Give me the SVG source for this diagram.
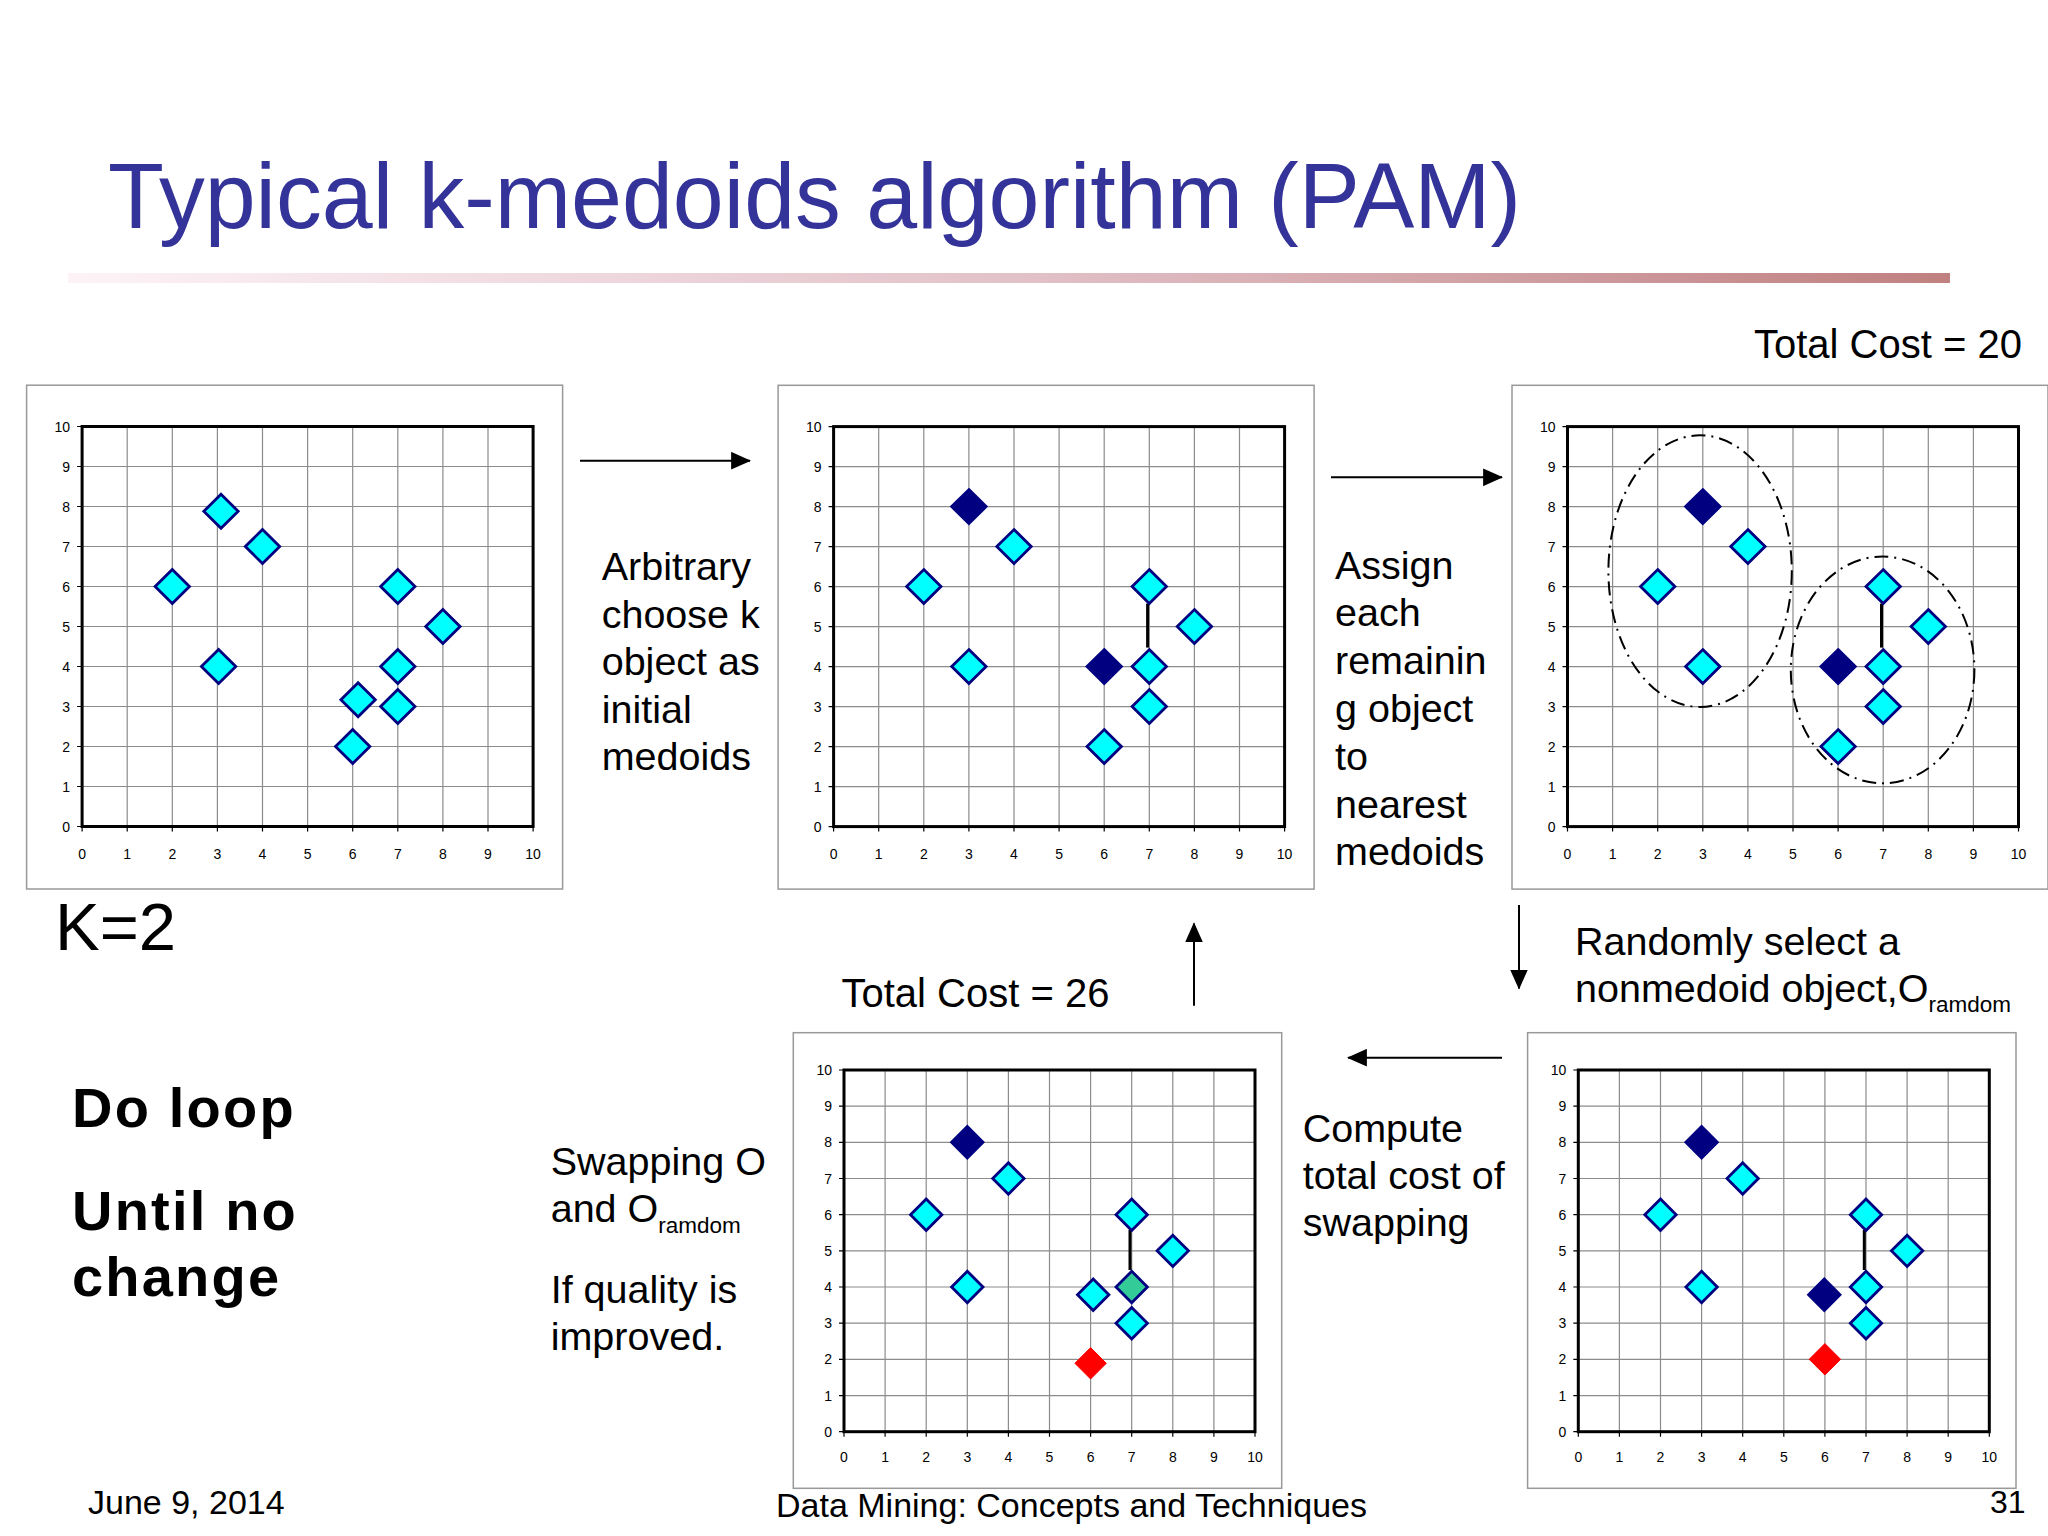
<svg xmlns="http://www.w3.org/2000/svg" xmlns:xlink="http://www.w3.org/1999/xlink" width="2048" height="1536" viewBox="0 0 2048 1536">
<style>
text{font-family:"Liberation Sans",Arial,sans-serif;fill:#000}
.title{font-size:92px;fill:#333399}
.body{font-size:39.5px}
.sub{font-size:22.5px}
.bold{font-size:56px;font-weight:bold;letter-spacing:2.2px}
.foot{font-size:34px}
.tick{font-size:14px}
.ya{text-anchor:end}
.xa{text-anchor:middle}
.frame{fill:#fff;stroke:#999;stroke-width:1.5}
.grid{fill:none;stroke:#8c8c8c;stroke-width:1.2}
.axis{fill:none;stroke:#000;stroke-width:3}
.tk{fill:none;stroke:#000;stroke-width:1.2}
.cy{fill:#00ffff;stroke:#000080;stroke-width:2.8}
.nv{fill:#000080;stroke:#000080;stroke-width:2.8}
.rd{fill:#ff0000;stroke:#ff0000;stroke-width:1}
.gn{fill:#33cc99;stroke:#000080;stroke-width:2.8}
.link{stroke:#000;stroke-width:3}
.clu{fill:none;stroke:#000;stroke-width:2;stroke-dasharray:14 6 2 6}
.arr{stroke:#000;stroke-width:2;fill:none}
</style>
<defs>
<linearGradient id="bar" x1="0" y1="0" x2="1" y2="0">
<stop offset="0" stop-color="#fdf3f7"/>
<stop offset="0.5" stop-color="#e2c2c9"/>
<stop offset="1" stop-color="#c08080"/>
</linearGradient>
<marker id="ah" markerUnits="userSpaceOnUse" markerWidth="20" markerHeight="18" viewBox="0 0 18 16" refX="17" refY="8" orient="auto">
<path d="M0,0 L18,8 L0,16 Z" fill="#000"/>
</marker>
<path id="dL" d="M0,-17 L17.2,0 L0,17 L-17.2,0 Z"/>
<path id="dS" d="M0,-15.7 L15.7,0 L0,15.7 L-15.7,0 Z"/>
<g id="gridL">
<rect class="frame" x="-55.5" y="-41.3" width="536" height="503.8"/>
<path class="grid" d="M45.1,0V400M90.2,0V400M135.3,0V400M180.4,0V400M225.5,0V400M270.6,0V400M315.7,0V400M360.8,0V400M405.9,0V400M0,40H451M0,80H451M0,120H451M0,160H451M0,200H451M0,240H451M0,280H451M0,320H451M0,360H451"/>
<path class="tk" d="M-5,0H0M-5,40H0M-5,80H0M-5,120H0M-5,160H0M-5,200H0M-5,240H0M-5,280H0M-5,320H0M-5,360H0M-5,400H0M0,400V405M45.1,400V405M90.2,400V405M135.3,400V405M180.4,400V405M225.5,400V405M270.6,400V405M315.7,400V405M360.8,400V405M405.9,400V405M451,400V405"/>
<rect class="axis" x="0" y="0" width="451" height="400"/>
<g class="tick ya">
<text x="-12" y="5">10</text><text x="-12" y="45">9</text><text x="-12" y="85">8</text><text x="-12" y="125">7</text><text x="-12" y="165">6</text><text x="-12" y="205">5</text><text x="-12" y="245">4</text><text x="-12" y="285">3</text><text x="-12" y="325">2</text><text x="-12" y="365">1</text><text x="-12" y="405">0</text>
</g>
<g class="tick xa">
<text x="0" y="432">0</text><text x="45.1" y="432">1</text><text x="90.2" y="432">2</text><text x="135.3" y="432">3</text><text x="180.4" y="432">4</text><text x="225.5" y="432">5</text><text x="270.6" y="432">6</text><text x="315.7" y="432">7</text><text x="360.8" y="432">8</text><text x="405.9" y="432">9</text><text x="451" y="432">10</text>
</g>
</g>
<g id="gridS">
<rect class="frame" x="-50.7" y="-37.3" width="488.4" height="455.6"/>
<path class="grid" d="M41.1,0V361.7M82.2,0V361.7M123.3,0V361.7M164.4,0V361.7M205.5,0V361.7M246.6,0V361.7M287.7,0V361.7M328.8,0V361.7M369.9,0V361.7M0,36.17H411M0,72.34H411M0,108.51H411M0,144.68H411M0,180.85H411M0,217.02H411M0,253.19H411M0,289.36H411M0,325.53H411"/>
<path class="tk" d="M-5,0H0M-5,36.17H0M-5,72.34H0M-5,108.51H0M-5,144.68H0M-5,180.85H0M-5,217.02H0M-5,253.19H0M-5,289.36H0M-5,325.53H0M-5,361.7H0M0,361.7V366.7M41.1,361.7V366.7M82.2,361.7V366.7M123.3,361.7V366.7M164.4,361.7V366.7M205.5,361.7V366.7M246.6,361.7V366.7M287.7,361.7V366.7M328.8,361.7V366.7M369.9,361.7V366.7M411,361.7V366.7"/>
<rect class="axis" x="0" y="0" width="411" height="361.7"/>
<g class="tick ya">
<text x="-12" y="5">10</text><text x="-12" y="41.2">9</text><text x="-12" y="77.3">8</text><text x="-12" y="113.5">7</text><text x="-12" y="149.7">6</text><text x="-12" y="185.9">5</text><text x="-12" y="222">4</text><text x="-12" y="258.2">3</text><text x="-12" y="294.4">2</text><text x="-12" y="330.5">1</text><text x="-12" y="366.7">0</text>
</g>
<g class="tick xa">
<text x="0" y="391.7">0</text><text x="41.1" y="391.7">1</text><text x="82.2" y="391.7">2</text><text x="123.3" y="391.7">3</text><text x="164.4" y="391.7">4</text><text x="205.5" y="391.7">5</text><text x="246.6" y="391.7">6</text><text x="287.7" y="391.7">7</text><text x="328.8" y="391.7">8</text><text x="369.9" y="391.7">9</text><text x="411" y="391.7">10</text>
</g>
</g>
</defs>

<rect x="0" y="0" width="2048" height="1536" fill="#fff"/>

<g id="title">
<text class="title" x="108" y="228" textLength="1413" lengthAdjust="spacingAndGlyphs">Typical k-medoids algorithm (PAM)</text>
<rect x="68" y="273" width="1882" height="10" fill="url(#bar)"/>
</g>

<g id="chart1" transform="translate(82.1,426.5)">
<use href="#gridL"/>
<use href="#dL" class="cy" x="138.9" y="84.8"/>
<use href="#dL" class="cy" x="180.4" y="120"/>
<use href="#dL" class="cy" x="90.2" y="160"/>
<use href="#dL" class="cy" x="315.7" y="160"/>
<use href="#dL" class="cy" x="360.8" y="200"/>
<use href="#dL" class="cy" x="136.5" y="240"/>
<use href="#dL" class="cy" x="315.7" y="240"/>
<use href="#dL" class="cy" x="276" y="273.2"/>
<use href="#dL" class="cy" x="315.7" y="280"/>
<use href="#dL" class="cy" x="270.6" y="320"/>
</g>

<g id="chart2" transform="translate(833.6,426.6)">
<use href="#gridL"/>
<line class="link" x1="314" y1="177" x2="314" y2="221"/>
<use href="#dL" class="nv" x="135.3" y="80"/>
<use href="#dL" class="nv" x="270.6" y="240"/>
<use href="#dL" class="cy" x="180.4" y="120"/>
<use href="#dL" class="cy" x="90.2" y="160"/>
<use href="#dL" class="cy" x="135.3" y="240"/>
<use href="#dL" class="cy" x="315.7" y="160"/>
<use href="#dL" class="cy" x="360.8" y="200"/>
<use href="#dL" class="cy" x="315.7" y="240"/>
<use href="#dL" class="cy" x="315.7" y="280"/>
<use href="#dL" class="cy" x="270.6" y="320"/>
</g>

<g id="chart3" transform="translate(1567.5,426.6)">
<use href="#gridL"/>
<line class="link" x1="314" y1="177" x2="314" y2="221"/>
<use href="#dL" class="nv" x="135.3" y="80"/>
<use href="#dL" class="nv" x="270.6" y="240"/>
<use href="#dL" class="cy" x="180.4" y="120"/>
<use href="#dL" class="cy" x="90.2" y="160"/>
<use href="#dL" class="cy" x="135.3" y="240"/>
<use href="#dL" class="cy" x="315.7" y="160"/>
<use href="#dL" class="cy" x="360.8" y="200"/>
<use href="#dL" class="cy" x="315.7" y="240"/>
<use href="#dL" class="cy" x="315.7" y="280"/>
<use href="#dL" class="cy" x="270.6" y="320"/>
<ellipse class="clu" cx="132.6" cy="144.5" rx="91.7" ry="135.8"/>
<ellipse class="clu" cx="315.1" cy="243.3" rx="91.8" ry="113.4"/>
</g>

<g id="chart4" transform="translate(844,1070)">
<use href="#gridS"/>
<line class="link" x1="286" y1="160" x2="286" y2="200"/>
<use href="#dS" class="nv" x="123.3" y="72.3"/>
<use href="#dS" class="cy" x="164.4" y="108.5"/>
<use href="#dS" class="cy" x="82.2" y="144.7"/>
<use href="#dS" class="cy" x="123.3" y="217"/>
<use href="#dS" class="cy" x="287.7" y="144.7"/>
<use href="#dS" class="cy" x="328.8" y="180.85"/>
<use href="#dS" class="cy" x="249.2" y="224.8"/>
<use href="#dS" class="gn" x="287.7" y="217"/>
<use href="#dS" class="cy" x="287.7" y="253.2"/>
<use href="#dS" class="rd" x="246.6" y="293.3"/>
</g>

<g id="chart5" transform="translate(1578.3,1070)">
<use href="#gridS"/>
<line class="link" x1="286" y1="160" x2="286" y2="200"/>
<use href="#dS" class="nv" x="123.3" y="72.3"/>
<use href="#dS" class="cy" x="164.4" y="108.5"/>
<use href="#dS" class="cy" x="82.2" y="144.7"/>
<use href="#dS" class="cy" x="123.3" y="217"/>
<use href="#dS" class="cy" x="287.7" y="144.7"/>
<use href="#dS" class="cy" x="328.8" y="180.85"/>
<use href="#dS" class="cy" x="287.7" y="217"/>
<use href="#dS" class="cy" x="287.7" y="253.2"/>
<use href="#dS" class="nv" x="246" y="224.8"/>
<use href="#dS" class="rd" x="246.6" y="289.3"/>
</g>

<g id="connectors">
<line class="arr" x1="580" y1="460.7" x2="750" y2="460.7" marker-end="url(#ah)"/>
<line class="arr" x1="1331" y1="477.3" x2="1502" y2="477.3" marker-end="url(#ah)"/>
<line class="arr" x1="1519" y1="905" x2="1519" y2="988.5" marker-end="url(#ah)"/>
<line class="arr" x1="1502" y1="1057.7" x2="1348" y2="1057.7" marker-end="url(#ah)"/>
<line class="arr" x1="1194" y1="1005.7" x2="1194" y2="923.4" marker-end="url(#ah)"/>
</g>

<g id="label-arbitrary">
<text class="body" x="601.7" y="580">Arbitrary</text>
<text class="body" x="601.7" y="627.5">choose k</text>
<text class="body" x="601.7" y="675">object as</text>
<text class="body" x="601.7" y="722.5">initial</text>
<text class="body" x="601.7" y="770">medoids</text>
</g>

<g id="label-assign">
<text class="body" x="1335" y="578.5">Assign</text>
<text class="body" x="1335" y="626.3">each</text>
<text class="body" x="1335" y="674.1">remainin</text>
<text class="body" x="1335" y="721.9">g object</text>
<text class="body" x="1335" y="769.7">to</text>
<text class="body" x="1335" y="817.5">nearest</text>
<text class="body" x="1335" y="865.3">medoids</text>
</g>

<g id="label-cost20">
<text class="body" x="1754" y="357.8" style="font-size:40px">Total Cost = 20</text>
</g>

<g id="label-random">
<text class="body" x="1575" y="955">Randomly select a</text>
<text class="body" x="1575" y="1001.7">nonmedoid object,O<tspan class="sub" dy="10">ramdom</tspan></text>
</g>

<g id="label-compute">
<text class="body" x="1302.7" y="1141.7">Compute</text>
<text class="body" x="1302.7" y="1189">total cost of</text>
<text class="body" x="1302.7" y="1236.3">swapping</text>
</g>

<g id="label-cost26">
<text class="body" x="841.5" y="1006.6" style="font-size:40px">Total Cost = 26</text>
</g>

<g id="label-swap">
<text class="body" x="550.7" y="1175">Swapping O</text>
<text class="body" x="550.7" y="1221.7">and O<tspan class="sub" dy="11.6">ramdom</tspan></text>
<text class="body" x="550.7" y="1303.3">If quality is</text>
<text class="body" x="550.7" y="1350">improved.</text>
</g>

<g id="label-k">
<text x="55" y="950" style="font-size:67px">K=2</text>
</g>

<g id="label-loop">
<text class="bold" x="72" y="1126.7">Do loop</text>
<text class="bold" x="72" y="1230">Until no</text>
<text class="bold" x="72" y="1296">change</text>
</g>

<g id="footer">
<text class="foot" x="88" y="1514">June 9, 2014</text>
<text class="foot" x="776" y="1517">Data Mining: Concepts and Techniques</text>
<text x="1990" y="1512.7" style="font-size:32px">31</text>
</g>
</svg>
